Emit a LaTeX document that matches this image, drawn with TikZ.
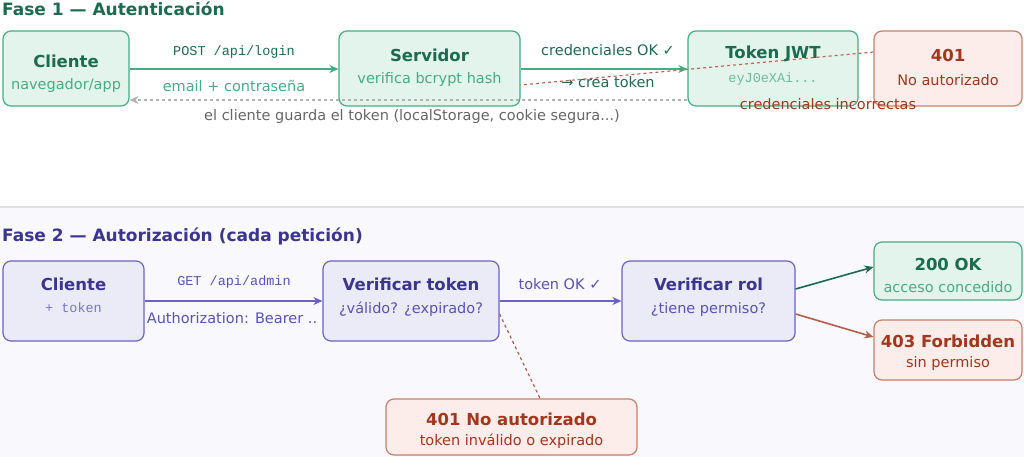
\documentclass[tikz,border=0pt]{standalone}
\usepackage{fontspec}
\setmainfont{DejaVu Sans}
\setmonofont{Liberation Mono}
\usetikzlibrary{arrows.meta}
\definecolor{gstroke}{HTML}{45AD85}
\definecolor{gfill}{HTML}{E2F4EC}
\definecolor{gtext}{HTML}{1B6B50}
\definecolor{glight}{HTML}{45AD85}
\definecolor{rstroke}{HTML}{C97E66}
\definecolor{rfill}{HTML}{FDEDEA}
\definecolor{rtext}{HTML}{A3361C}
\definecolor{pstroke}{HTML}{6A62C6}
\definecolor{pfill}{HTML}{EBEAF7}
\definecolor{ptext}{HTML}{3B3590}
\definecolor{plight}{HTML}{5A52B8}
\definecolor{bgtwo}{HTML}{F8F8FD}
\tikzset{
    box/.style={draw, rounded corners=8pt, line width=1.2pt, align=center, inner sep=0pt},
    gbox/.style={box, draw=gstroke, fill=gfill},
    rbox/.style={box, draw=rstroke, fill=rfill},
    pbox/.style={box, draw=pstroke, fill=pfill},
    arr/.style={-{Stealth[length=9pt,width=8pt]}, line width=1.6pt},
    lbl/.style={font=\fontsize{14.5}{16}\selectfont},
    ttl/.style={font=\bfseries\fontsize{16.5}{18}\selectfont},
    mono/.style={font=\ttfamily\fontsize{13.5}{15}\selectfont},
}
\begin{document}
\begin{tikzpicture}[x=1pt,y=-1pt]
    \useasboundingbox (0,0) rectangle (1024,457);
    %backgrounds
    \fill[bgtwo] (0,207) rectangle (1024,457);
    \draw[black!12, line width=1.2pt] (0,207) -- (1024,207);
    %phase titles
    \node[anchor=west, text=gtext, font=\bfseries\fontsize{17}{19}\selectfont, inner sep=0pt] (t1) at (2,9) {Fase 1 — Autenticación};
    \node[anchor=west, text=ptext, font=\bfseries\fontsize{17}{19}\selectfont, inner sep=0pt] (t2) at (2,236) {Fase 2 — Autorización (cada petición)};
    %phase 1 boxes
    \node[gbox, minimum width=126pt, minimum height=75pt] (cli) at (66,68.5) {};
    \node[text=gtext, ttl] at (66,61) {Cliente};
    \node[text=glight, lbl] at (66,86) {navegador/app};
    \node[gbox, minimum width=181pt, minimum height=75pt] (srv) at (429.5,68.5) {};
    \node[text=gtext, ttl] at (429.5,55) {Servidor};
    \node[text=glight, lbl] at (429.5,80) {verifica bcrypt hash};
    \node[gbox, minimum width=170pt, minimum height=75pt] (jwt) at (773,68.5) {};
    \node[rbox, minimum width=148pt, minimum height=75pt] (e401) at (948,68.5) {};
    \node[text=rtext, ttl] at (948,55) {401};
    \node[text=rtext, lbl] at (948,80) {No autorizado};
    %phase 1 arrows
    \draw[arr, gstroke] (cli.east |- 0,69) -- (srv.west |- 0,69);
    \node[mono, text=gtext] (post) at (234,52) {POST /api/login};
    \node[lbl, text=glight] (mail) at (234,86) {email + contraseña};
    \draw[arr, gstroke] (srv.east |- 0,69) -- (jwt.west |- 0,69);
    \node[lbl, text=gtext] (ok) at (608,50) {credenciales OK ✓};
    \node[lbl, text=gtext] (crea) at (608,82) {→ crea token};
    \draw[arr, black!30, dashed, line width=1.4pt] (jwt.west |- 0,100) -- (cli.east |- 0,100);
    \node[lbl, text=black!60] (guarda) at (412,117) {el cliente guarda el token (localStorage, cookie segura...)};
    \draw[rstroke!70!rtext, dashed, line width=1.2pt] (e401.west |- 0,52) -- (srv.east |- 0,85);
    \node[text=gtext, ttl] at (773,54) {Token JWT};
    \node[text=glight!80, mono] at (773,79) {eyJ0eXAi...};
    \node[lbl, text=rtext] (incorr) at (828,104) {credenciales incorrectas};
    %phase 2 boxes
    \node[pbox, minimum width=141pt, minimum height=80pt] (cli2) at (73.5,301) {};
    \node[text=ptext, ttl] at (73.5,284) {Cliente};
    \node[text=plight!80, mono] at (73.5,308) {+ token};
    \node[pbox, minimum width=176pt, minimum height=80pt] (vtok) at (411,301) {};
    \node[text=ptext, ttl] at (411,284) {Verificar token};
    \node[text=plight, lbl] at (411,309) {¿válido? ¿expirado?};
    \node[pbox, minimum width=173pt, minimum height=80pt] (vrol) at (708.5,301) {};
    \node[text=ptext, ttl] at (708.5,284) {Verificar rol};
    \node[text=plight, lbl] at (708.5,309) {¿tiene permiso?};
    \node[gbox, minimum width=148pt, minimum height=58pt] (ok200) at (948,271) {};
    \node[text=gtext, ttl] at (948,264) {200 OK};
    \node[text=glight, lbl] at (948,287) {acceso concedido};
    \node[rbox, minimum width=148pt, minimum height=60pt] (f403) at (948,350) {};
    \node[text=rtext, ttl] at (948,341) {403 Forbidden};
    \node[text=rtext, lbl] at (948,363) {sin permiso};
    \node[rbox, minimum width=251pt, minimum height=56pt] (e401b) at (511.5,427) {};
    \node[text=rtext, ttl] at (511.5,419) {401 No autorizado};
    \node[text=rtext, lbl] at (511.5,441) {token inválido o expirado};
    %phase 2 arrows
    \draw[arr, pstroke] (cli2.east |- 0,301) -- (vtok.west |- 0,301);
    \node[mono, text=plight] (get) at (234,282) {GET /api/admin};
    \node[lbl, text=plight] (auth) at (232,318) {Authorization: Bearer ..};
    \draw[arr, pstroke] (vtok.east |- 0,301) -- (vrol.west |- 0,301);
    \node[lbl, text=plight] (tokok) at (560,284) {token OK ✓};
    \draw[arr, gtext] (vrol.east |- 0,289) -- (ok200.west |- 0,267);
    \draw[arr, rtext!80] (vrol.east |- 0,314) -- (f403.west |- 0,337);
    \draw[rtext!80, dashed, line width=1.2pt] (vtok.east |- 0,314) -- (e401b.north -| 540,0);
\end{tikzpicture}
\end{document}
